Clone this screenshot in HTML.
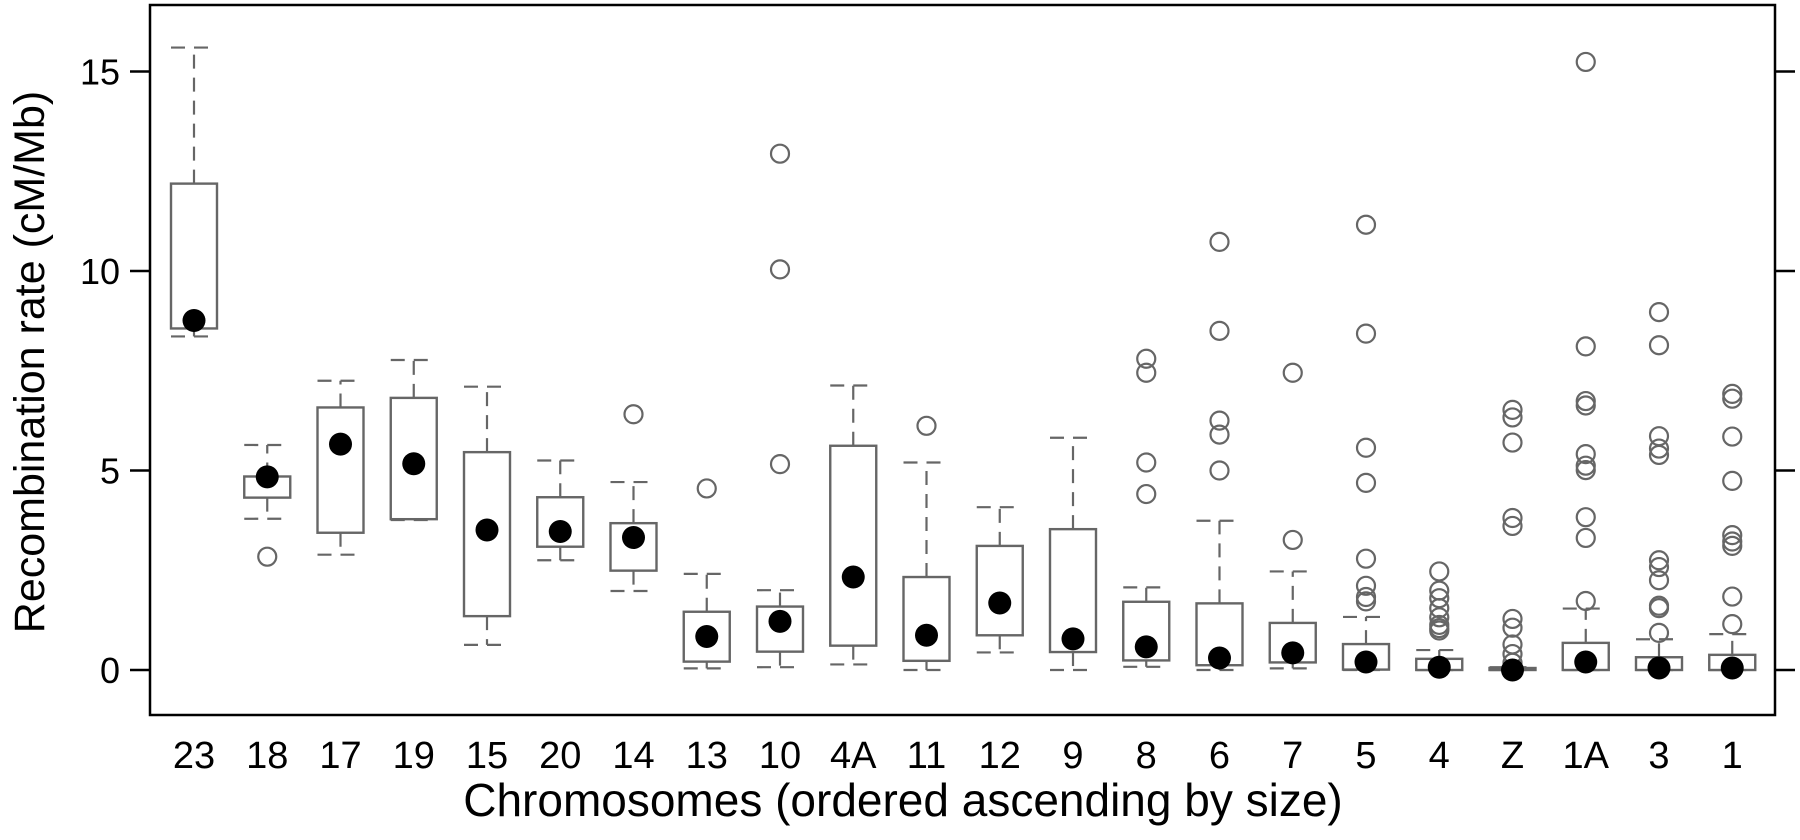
<!DOCTYPE html>
<html><head><meta charset="utf-8"><style>
html,body{margin:0;padding:0;background:#fff;}
svg{display:block;font-family:"Liberation Sans",Arial,sans-serif;}
</style></head><body>
<svg id="chart" width="1800" height="840" viewBox="0 0 1800 840">
<g id="plot"></g>
</svg>
<script>
const categories=["23","18","17","19","15","20","14","13","10","4A","11","12","9","8","6","7","5","4","Z","1A","3","1"];
const whiskerLow=[8.36,3.79,2.89,3.76,0.63,2.75,1.98,0.04,0.07,0.14,0.0,0.44,0.0,0.08,0.0,0.04,0.0,0.0,0.0,0.0,0.0,0.0];
const boxLow=[8.56,4.32,3.44,3.78,1.35,3.09,2.49,0.21,0.46,0.61,0.23,0.87,0.45,0.24,0.12,0.19,0.01,0.0,0.0,0.0,0.0,0.0];
const boxHigh=[12.19,4.85,6.58,6.82,5.46,4.33,3.68,1.46,1.59,5.62,2.33,3.11,3.53,1.71,1.67,1.18,0.65,0.28,0.05,0.68,0.32,0.38];
const whiskerHigh=[15.6,5.64,7.25,7.77,7.1,5.25,4.71,2.41,2.0,7.13,5.2,4.08,5.82,2.07,3.74,2.47,1.33,0.5,0.07,1.54,0.77,0.9];
const means=[8.76,4.84,5.66,5.17,3.51,3.47,3.32,0.84,1.22,2.33,0.87,1.68,0.78,0.58,0.3,0.43,0.2,0.07,0.0,0.2,0.05,0.05];
const outliers=[[],[2.84],[],[],[],[],[6.41],[4.55],[12.94,10.04,5.16],[],[6.12],[],[],[7.8,7.45,5.2,4.41],[10.73,8.5,6.25,5.9,5.0],[7.45,3.26],[11.16,8.43,5.57,4.69,2.79,2.11,1.83,1.72],[2.47,1.99,1.8,1.55,1.32,1.13,0.99,1.05],[6.52,6.33,5.7,3.81,3.61,1.28,1.06,0.64,0.4,0.18],[15.24,8.11,6.74,6.63,5.41,5.12,5.01,3.83,3.31,1.73],[8.97,8.14,5.86,5.55,5.39,2.75,2.58,2.25,1.61,1.55,0.93],[6.92,6.8,5.85,4.74,3.38,3.22,3.11,1.84,1.15]];
const yTicks=[0,5,10,15];

const L=150,R=1775,T=5,B=715;
const y=v=>670-v*39.9;
const x=i=>194+i*73.25;
const NS="http://www.w3.org/2000/svg";
const g=document.getElementById('plot');
function mk(tag,attrs,parent){const e=document.createElementNS(NS,tag);for(const k in attrs)e.setAttribute(k,attrs[k]);(parent||g).appendChild(e);return e;}
const GR="#666";
categories.forEach((c,i)=>{
  const cx=x(i),hw=23;
  const grp=mk('g',{});
  
  
  const dash={stroke:GR,'stroke-width':2.2,'stroke-dasharray':'14,9',fill:'none'};
  mk('line',Object.assign({x1:cx,x2:cx,y1:y(boxHigh[i]),y2:y(whiskerHigh[i])},dash),grp);
  mk('line',Object.assign({x1:cx,x2:cx,y1:y(boxLow[i]),y2:y(whiskerLow[i])},dash),grp);
  mk('line',Object.assign({x1:cx-hw,x2:cx+hw,y1:y(whiskerHigh[i]),y2:y(whiskerHigh[i])},dash),grp);
  mk('line',Object.assign({x1:cx-hw,x2:cx+hw,y1:y(whiskerLow[i]),y2:y(whiskerLow[i])},dash),grp);
  mk('rect',{x:cx-hw,y:y(boxHigh[i]),width:hw*2,height:Math.max(1,y(boxLow[i])-y(boxHigh[i])),fill:'#fff',stroke:GR,'stroke-width':2.4},grp);
  outliers[i].forEach(v=>{
    const o=mk('circle',{cx:cx,cy:y(v),r:9,fill:'none',stroke:GR,'stroke-width':2.2},grp);
    
    
  });
  const m=mk('circle',{cx:cx,cy:y(means[i]),r:11.5,fill:'#000'},grp);
  
  
  const t=mk('text',{x:cx,y:768,'text-anchor':'middle','font-size':38,fill:'#000'});
  t.textContent=c;
  
  
});
const frame=mk('rect',{x:L,y:T,width:R-L,height:B-T,fill:'none',stroke:'#000','stroke-width':2.5});


yTicks.forEach(v=>{
  mk('line',{x1:L-20,x2:L,y1:y(v),y2:y(v),stroke:'#000','stroke-width':2.5});
  mk('line',{x1:R,x2:R+20,y1:y(v),y2:y(v),stroke:'#000','stroke-width':2.5});
  const t=mk('text',{x:120,y:y(v)+13,'text-anchor':'end','font-size':36,fill:'#000'});
  t.textContent=v;
  
  
});
const yt=mk('text',{x:0,y:0,transform:'translate(44,362) rotate(-90)','text-anchor':'middle','font-size':43,fill:'#000'});
yt.textContent='Recombination rate (cM/Mb)';


const xt=mk('text',{x:903,y:816,'text-anchor':'middle','font-size':46,fill:'#000'});
xt.textContent='Chromosomes (ordered ascending by size)';


</script>
</body></html>
